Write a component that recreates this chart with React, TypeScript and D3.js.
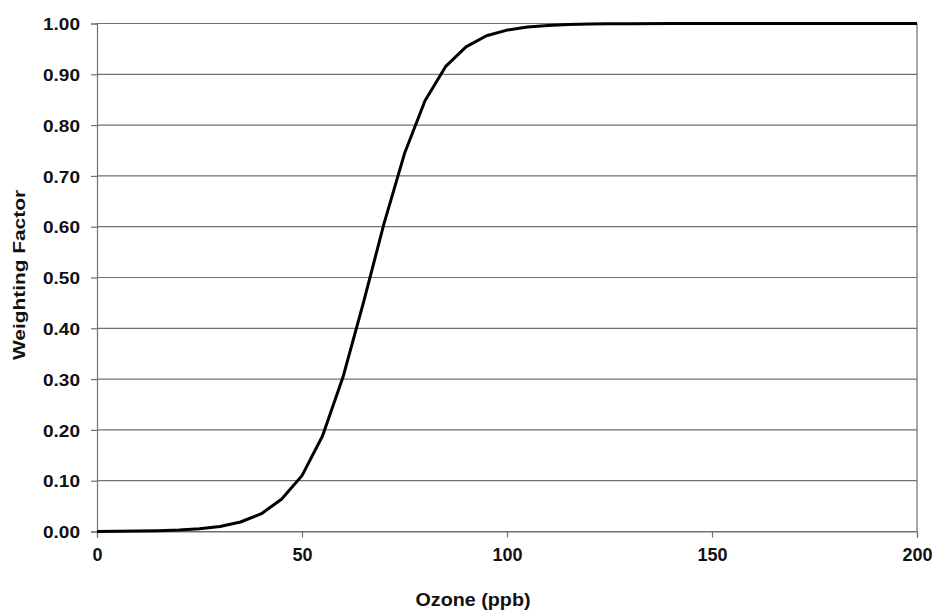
import React, { useRef, useEffect } from 'react'
import * as d3 from 'd3'

// ozone concentration (ppb) and weighting factor
const ozone = [0, 5, 10, 15, 20, 25, 30, 35, 40, 45, 50, 55, 60, 65, 70, 75, 80, 85, 90, 95, 100, 105, 110, 115, 120, 125, 130, 140, 150, 160, 170, 180, 190, 200]
const weight = [0.0002, 0.0004, 0.0008, 0.0015, 0.0028, 0.0053, 0.01, 0.0187, 0.0346, 0.0633, 0.11, 0.188, 0.304, 0.451, 0.606, 0.744, 0.848, 0.915, 0.954, 0.976, 0.987, 0.993, 0.996, 0.998, 0.999, 0.9995, 0.9997, 1, 1, 1, 1, 1, 1, 1]
const yTicks = [0, 0.1, 0.2, 0.3, 0.4, 0.5, 0.6, 0.7, 0.8, 0.9, 1]
const xTicks = [0, 50, 100, 150, 200]

export default function App() {
  const ref = useRef<SVGGElement>(null)

  useEffect(() => {
    const g = d3.select(ref.current)
    g.selectAll('*').remove()

    const left = 97
    const right = 917
    const top = 23.5
    const bottom = 531.5
    const font = 'Liberation Sans, Arial, sans-serif'

    const x = d3.scaleLinear().domain([0, 200]).range([left, right])
    const y = d3.scaleLinear().domain([0, 1]).range([bottom, top])

    // horizontal gridlines
    g.append('g')
      .selectAll('line')
      .data(yTicks)
      .join('line')
      .attr('x1', left)
      .attr('x2', right)
      .attr('y1', d => y(d))
      .attr('y2', d => y(d))
      .attr('stroke', '#707070')
      .attr('stroke-width', 1.2)

    // right border
    g.append('line')
      .attr('x1', right)
      .attr('x2', right)
      .attr('y1', top)
      .attr('y2', bottom)
      .attr('stroke', '#707070')
      .attr('stroke-width', 1.2)

    const yAxis = g
      .append('g')
      .attr('transform', `translate(${left},0)`)
      .call(d3.axisLeft(y).tickValues(yTicks).tickSize(6).tickPadding(11).tickFormat(d3.format('.2f')))
    yAxis.select('.domain').attr('stroke', '#707070').attr('stroke-width', 1.2)
    yAxis.selectAll('.tick line').attr('stroke', '#707070').attr('stroke-width', 1.2)
    yAxis
      .selectAll('.tick text')
      .attr('font-family', font)
      .attr('font-weight', 'bold')
      .attr('font-size', 17)
      .attr('fill', '#111')
      .attr('textLength', 37)
      .attr('lengthAdjust', 'spacingAndGlyphs')
      .attr('dy', '0.36em')

    const xAxis = g
      .append('g')
      .attr('transform', `translate(0,${bottom})`)
      .call(d3.axisBottom(x).tickValues(xTicks).tickSize(6).tickPadding(11).tickFormat(d3.format('d')))
    xAxis.select('.domain').attr('stroke', '#707070').attr('stroke-width', 1.2)
    xAxis.selectAll('.tick line').attr('stroke', '#707070').attr('stroke-width', 1.2)
    xAxis
      .selectAll('.tick text')
      .attr('font-family', font)
      .attr('font-weight', 'bold')
      .attr('font-size', 18)
      .attr('fill', '#111')

    const line = d3
      .line<number>()
      .x((d, i) => x(ozone[i]))
      .y(d => y(d))

    g.append('path')
      .datum(weight)
      .attr('d', line)
      .attr('fill', 'none')
      .attr('stroke', '#000')
      .attr('stroke-width', 3)
      .attr('stroke-linejoin', 'round')

    g.append('text')
      .attr('x', 473)
      .attr('y', 606)
      .attr('text-anchor', 'middle')
      .attr('font-family', font)
      .attr('font-weight', 'bold')
      .attr('font-size', 18)
      .attr('fill', '#111')
      .attr('textLength', 115)
      .attr('lengthAdjust', 'spacingAndGlyphs')
      .text('Ozone (ppb)')

    g.append('text')
      .attr('transform', 'translate(25,275) rotate(-90)')
      .attr('text-anchor', 'middle')
      .attr('font-family', font)
      .attr('font-weight', 'bold')
      .attr('font-size', 17)
      .attr('fill', '#111')
      .attr('textLength', 170)
      .attr('lengthAdjust', 'spacingAndGlyphs')
      .text('Weighting Factor')
  }, [])

  return (
    <svg width={935} height={611} style={{ position: 'absolute', left: 0, top: 0, background: '#fff' }}>
      <g ref={ref} />
    </svg>
  )
}
